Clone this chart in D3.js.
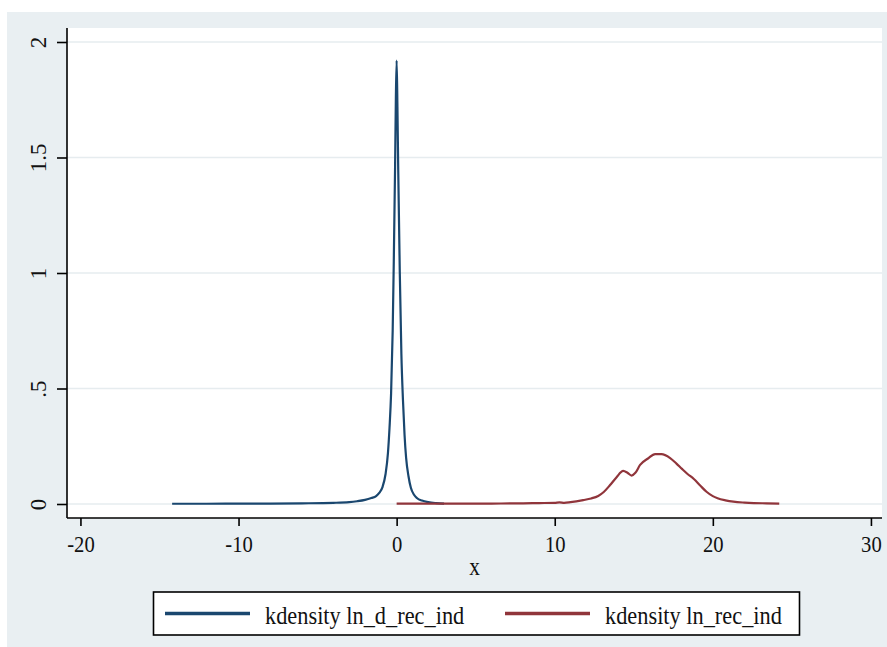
<!DOCTYPE html>
<meta charset="utf-8">
<style>
body {
    margin: 0;
    background-color: #ffffff;
}
svg text {
    font-family: 'Liberation Serif', 'DejaVu Serif', serif !important;
    fill: #111;
}
.axis path,
.axis line {
    fill: none;
    stroke: #000;
    stroke-width: 1.6px;
}
.grid line {
    stroke: #E6ECEF;
    stroke-width: 1.5px;
}
</style>
<div class="chart"></div>
<script src="https://d3js.org/d3.v7.min.js"></script>
<script>
    // kdensity ln_d_rec_ind
    var blueX = [-14.2, -12, -10, -8, -6, -4, -3, -2.5, -2, -1.6, -1.3, -1.1, -0.9, -0.7, -0.55, -0.45, -0.35, -0.25, -0.18, -0.1, -0.05, 0,
                 0.05, 0.1, 0.2, 0.3, 0.4, 0.5, 0.6, 0.75, 0.9, 1.1, 1.3, 1.6, 2.0, 2.5, 3.0];
    var blueY = [0.001, 0.001, 0.002, 0.002, 0.003, 0.005, 0.008, 0.012, 0.018, 0.026, 0.034, 0.048, 0.072, 0.13, 0.22, 0.33, 0.48, 0.75, 1.05, 1.45, 1.75, 1.92,
                 1.72, 1.45, 1.0, 0.65, 0.45, 0.3, 0.2, 0.12, 0.07, 0.04, 0.025, 0.015, 0.008, 0.004, 0.002];

    // kdensity ln_rec_ind
    var redX = [0, 2, 4, 6, 8, 9, 10, 10.3, 10.6, 11, 11.8, 12.3, 12.75, 13.1, 13.5, 13.9, 14.33, 14.6, 14.86, 15.1, 15.4, 15.9, 16.35, 16.75,
                17.3, 17.7, 18.05, 18.4, 18.8, 19.2, 19.6, 20.0, 20.3, 20.8, 21.3, 22.0, 22.6, 23.4, 24.2];
    var redY = [0.002, 0.002, 0.002, 0.002, 0.003, 0.004, 0.005, 0.007, 0.005, 0.008, 0.017, 0.024, 0.035, 0.052, 0.082, 0.115, 0.143, 0.135, 0.123, 0.135, 0.169, 0.197, 0.216, 0.216,
                0.199, 0.175, 0.152, 0.13, 0.108, 0.08, 0.053, 0.034, 0.025, 0.016, 0.01, 0.006, 0.004, 0.003, 0.002];

    var xTicks = [-20, -10, 0, 10, 20, 30];
    var xTickLabels = ["-20", "-10", "0", "10", "20", "30"];
    var yTicks = [0, 0.5, 1, 1.5, 2];
    var yTickLabels = ["0", ".5", "1", "1.5", "2"];
    var seriesNames = ["kdensity ln_d_rec_ind", "kdensity ln_rec_ind"];
    var seriesColors = ["#1A476F", "#90353B"];

    var W = 887, H = 647;
    var plot = { left: 67, right: 882, top: 28, bottom: 518 };
    var squash = 0.86;

    var svg = d3.select(".chart")
        .append("svg")
        .attr("width", W)
        .attr("height", H);

    // graph region
    svg.append("rect")
        .attr("x", 7).attr("y", 12)
        .attr("width", W - 7).attr("height", H - 12)
        .style("fill", "#E9EFF2");

    // plot region
    svg.append("rect")
        .attr("x", plot.left).attr("y", plot.top)
        .attr("width", plot.right - plot.left).attr("height", plot.bottom - plot.top)
        .style("fill", "#ffffff");

    var x = d3.scaleLinear().domain([-20.85, 30.70]).range([plot.left, plot.right]);
    var y = d3.scaleLinear().domain([-0.0606, 2.0606]).range([plot.bottom, plot.top]);

    svg.append("g")
        .attr("class", "grid")
        .selectAll("line")
        .data(yTicks)
        .enter()
        .append("line")
        .attr("x1", plot.left).attr("x2", plot.right)
        .attr("y1", function (d) { return y(d); })
        .attr("y2", function (d) { return y(d); });

    var line = d3.line()
        .x(function (d) { return x(d[0]); })
        .y(function (d) { return y(d[1]); })
        .curve(d3.curveMonotoneX);

    var series = [d3.zip(blueX, blueY), d3.zip(redX, redY)];

    svg.selectAll(".kd")
        .data(series)
        .enter()
        .append("path")
        .attr("class", "kd")
        .attr("d", line)
        .style("fill", "none")
        .style("stroke", function (d, i) { return seriesColors[i]; })
        .style("stroke-width", 2.2)
        .style("stroke-linejoin", "round");

    // x axis
    var xAxis = svg.append("g")
        .attr("class", "x axis")
        .attr("transform", "translate(0," + plot.bottom + ")")
        .call(d3.axisBottom(x).tickValues(xTicks).tickSize(8).tickSizeOuter(0)
            .tickFormat(function (d, i) { return xTickLabels[i]; }));
    xAxis.select(".domain").attr("d", "M" + plot.left + ",0H" + plot.right);
    xAxis.selectAll("text")
        .style("font-size", "24px")
        .attr("y", null).attr("dy", null)
        .attr("transform", "translate(0,34) scale(" + squash + ",1)");

    // y axis
    var yAxis = svg.append("g")
        .attr("class", "y axis")
        .attr("transform", "translate(" + plot.left + ",0)")
        .call(d3.axisLeft(y).tickValues(yTicks).tickSize(10).tickSizeOuter(0)
            .tickFormat(function (d, i) { return yTickLabels[i]; }));
    yAxis.select(".domain").attr("d", "M0," + plot.top + "V" + plot.bottom);
    yAxis.selectAll("text")
        .style("font-size", "23px")
        .attr("text-anchor", "middle")
        .attr("x", null).attr("dy", null)
        .attr("transform", "translate(-21,0) rotate(-90)");

    svg.append("text")
        .attr("text-anchor", "middle")
        .attr("transform", "translate(" + (plot.left + plot.right) / 2 + ",575) scale(" + squash + ",1)")
        .style("font-size", "25px")
        .text("x");

    // legend
    var legend = svg.append("g");
    legend.append("rect")
        .attr("x", 153.5).attr("y", 592)
        .attr("width", 646).attr("height", 43)
        .style("fill", "#ffffff")
        .style("stroke", "#000")
        .style("stroke-width", 1.6);

    var legendX = [165, 505];
    var item = legend.selectAll(".item")
        .data(seriesNames)
        .enter()
        .append("g")
        .attr("class", "item")
        .attr("transform", function (d, i) { return "translate(" + legendX[i] + ",613.5)"; });

    item.append("line")
        .attr("x1", 0).attr("x2", 85)
        .style("stroke", function (d, i) { return seriesColors[i]; })
        .style("stroke-width", 3.5);

    item.append("text")
        .attr("transform", "translate(100,10) scale(" + squash + ",1)")
        .style("font-size", "26px")
        .text(function (d) { return d; });
</script>
